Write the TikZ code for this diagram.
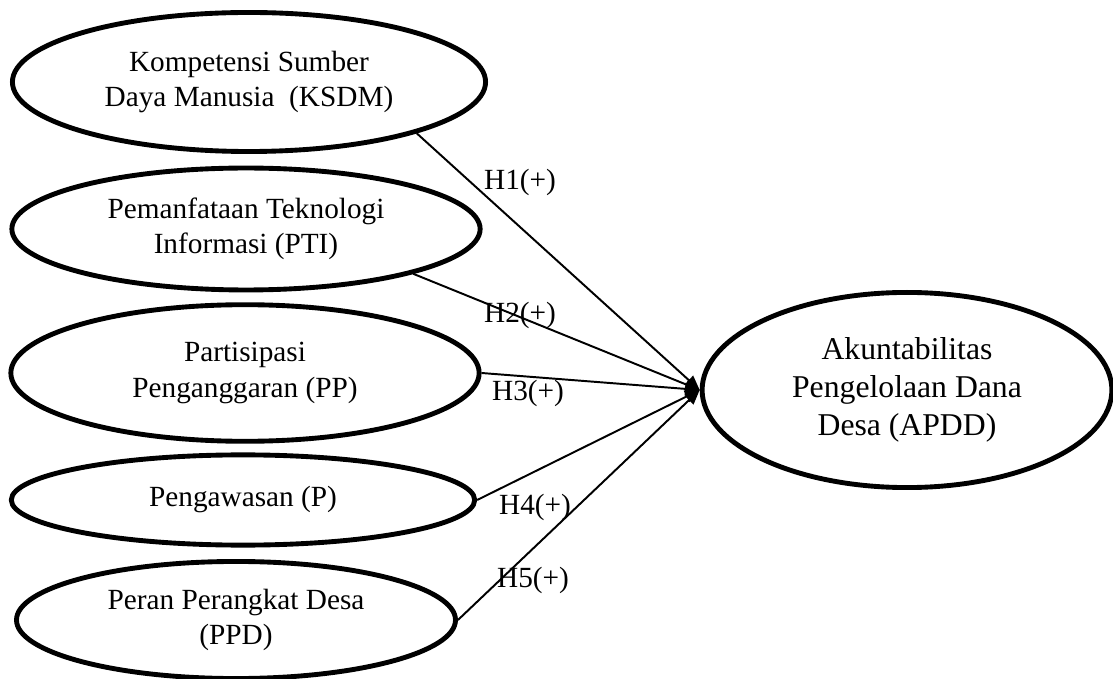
\documentclass[tikz,border=0pt]{standalone}
\usepackage{fontspec}
\setmainfont{Liberation Serif}
\usetikzlibrary{shapes.geometric, arrows.meta}

\begin{document}
\begin{tikzpicture}[x=0.41pt, y=-0.41pt,
        var/.style={draw, ellipse, line width=2pt, inner sep=0pt, align=center, font=\fontsize{12}{14.5}\selectfont},
        hyp/.style={line width=0.8pt, -{Triangle[length=6pt,width=5pt]}},
        lbl/.style={inner sep=0pt, font=\fontsize{12}{14}\selectfont}]
            \useasboundingbox (0,0) rectangle (1113,679);
            \node[var, minimum width=194pt, minimum height=57pt] (ksdm) at (249,82) {Kompetensi Sumber\\Daya Manusia\ \ (KSDM)};
            \node[var, minimum width=192pt, minimum height=50pt] (pti) at (246,229) {Pemanfataan Teknologi\\Informasi (PTI)};
            \node[var, minimum width=192pt, minimum height=56pt] (pp) at (245,373) {Partisipasi\\Penganggaran (PP)};
            \node[var, minimum width=190pt, minimum height=37pt] (p) at (243,500) {Pengawasan (P)};
            \node[var, minimum width=180pt, minimum height=48pt] (ppd) at (236,620) {Peran Perangkat Desa\\(PPD)};
            \node[var, minimum width=168pt, minimum height=80pt, font=\fontsize{13}{15.5}\selectfont] (apdd) at (907,390) {Akuntabilitas\\Pengelolaan Dana\\Desa (APDD)};
            \draw[hyp] (ksdm.-17) -- (apdd.west);
            \draw[hyp] (pti.-15) -- (apdd.west);
            \draw[hyp] (pp.east) -- (apdd.west);
            \draw[hyp] (p.east) -- (apdd.west);
            \draw[hyp] (ppd.east) -- (apdd.west);
            \node[lbl] (h1) at (520,182) {H1(+)};
            \node[lbl] (h2) at (520,315) {H2(+)};
            \node[lbl] (h3) at (528,393) {H3(+)};
            \node[lbl] (h4) at (535,507) {H4(+)};
            \node[lbl] (h5) at (533,580) {H5(+)};
\end{tikzpicture}
\end{document}
